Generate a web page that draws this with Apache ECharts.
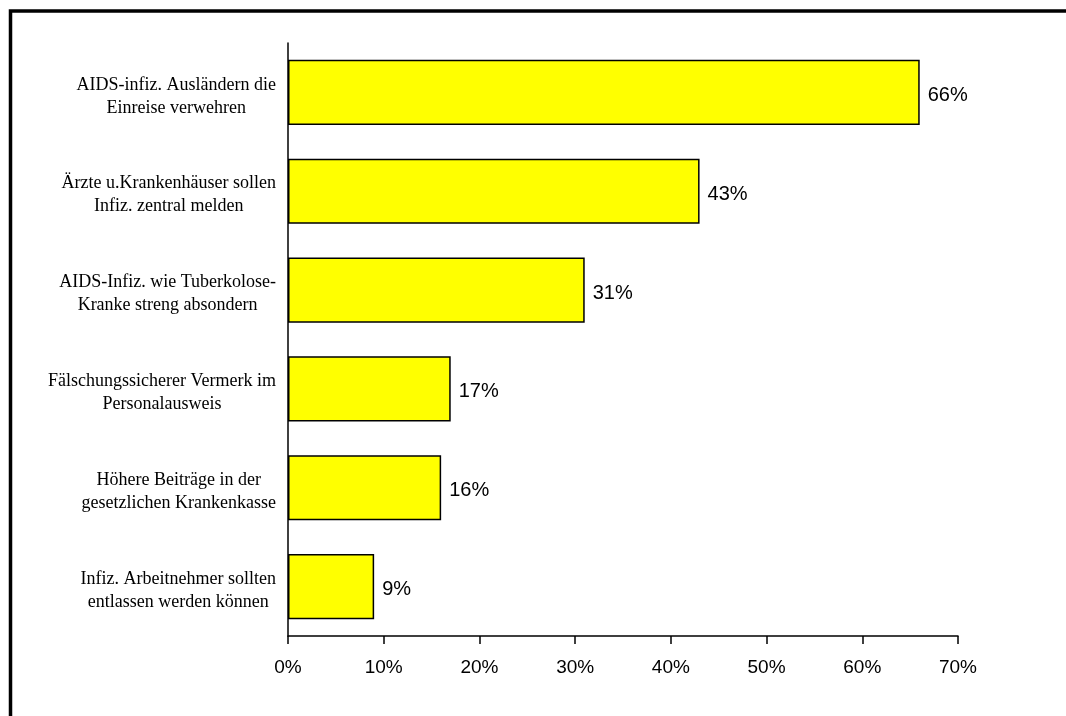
<!DOCTYPE html>
<html>
<head>
<meta charset="utf-8">
<title>AIDS Maßnahmen</title>
<script src="https://cdn.jsdelivr.net/npm/echarts@6/dist/echarts.min.js"></script>
<style>
    html, body { margin: 0; padding: 0; background: #fff; }
    #chartsBox { width: 1066px; height: 716px; }
</style>
</head>
<body>
<div id="chartsBox"></div>
<script>
// Kategorien (von oben nach unten)
var categories = [
    'AIDS-infiz. Ausländern die\nEinreise verwehren',
    'Ärzte u.Krankenhäuser sollen\nInfiz. zentral melden',
    'AIDS-Infiz. wie Tuberkolose-\nKranke streng absondern',
    'Fälschungssicherer Vermerk im\nPersonalausweis',
    'Höhere Beiträge in der\ngesetzlichen Krankenkasse',
    'Infiz. Arbeitnehmer sollten\nentlassen werden können'
];
// Zustimmung in Prozent
var values = [66, 43, 31, 17, 16, 9];
// x-Achse
var axisMin = 0;
var axisMax = 70;
var axisStep = 10;

var chartsObj = echarts.init(document.getElementById('chartsBox'), null, { renderer: 'canvas' });

// Block rechtsbündig, Zeilen innerhalb des Blocks zentriert
function catLabel(value) {
    return value.split('\n').map(function (line) {
        return '{c|' + line + '}';
    }).join('\n');
}

var option = {
    backgroundColor: '#fff',
    animation: false,
    grid: {
        left: 288,
        right: 108,
        top: 43,
        bottom: 80,
        containLabel: false,
        outerBoundsMode: 'none'
    },
    // Rahmen um das ganze Bild (rechts/unten außerhalb)
    graphic: [{
        type: 'rect',
        shape: { x: 10.5, y: 11, width: 2000, height: 2000 },
        style: { fill: 'none', stroke: '#000', lineWidth: 3.5 },
        silent: true
    }],
    xAxis: {
        type: 'value',
        min: axisMin,
        max: axisMax,
        interval: axisStep,
        axisLine: { show: true, lineStyle: { color: '#000', width: 1.5 } },
        axisTick: { show: true, length: 8, lineStyle: { color: '#000', width: 1.5 } },
        splitLine: { show: false },
        axisLabel: {
            formatter: '{value}%',
            margin: 22,
            color: '#000',
            fontFamily: 'Liberation Sans, Arial, sans-serif',
            fontSize: 19
        }
    },
    yAxis: {
        type: 'category',
        inverse: true,
        data: categories,
        axisLine: { show: true, lineStyle: { color: '#000', width: 1.5 } },
        axisTick: { show: false },
        axisLabel: {
            align: 'right',
            margin: 12,
            padding: [8, 0, 0, 0],
            formatter: catLabel,
            rich: {
                c: {
                    align: 'center',
                    color: '#000',
                    fontFamily: 'Liberation Serif, Times New Roman, serif',
                    fontSize: 18,
                    lineHeight: 23
                }
            }
        }
    },
    series: [{
        type: 'bar',
        data: values,
        barCategoryGap: '34%',
        itemStyle: {
            color: '#ffff00',
            borderColor: '#000',
            borderWidth: 1.5
        },
        label: {
            show: true,
            position: 'right',
            distance: 8,
            offset: [0, 3],
            formatter: '{c}%',
            color: '#000',
            fontFamily: 'Liberation Sans, Arial, sans-serif',
            fontSize: 20
        }
    }]
};

chartsObj.setOption(option);
</script>
</body>
</html>
